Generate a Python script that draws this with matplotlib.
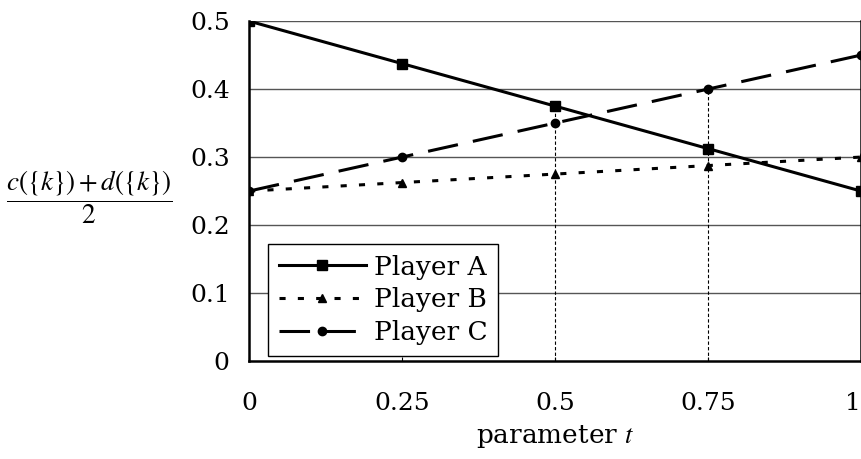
import matplotlib
matplotlib.use("Agg")
import matplotlib.pyplot as plt

# data
t = [0, 0.25, 0.5, 0.75, 1]
player_a = [0.5, 0.4375, 0.375, 0.3125, 0.25]
player_b = [0.25, 0.2625, 0.275, 0.2875, 0.3]
player_c = [0.25, 0.3, 0.35, 0.4, 0.45]
x_ticks = [0, 0.25, 0.5, 0.75, 1]
x_tick_labels = ["0", "0.25", "0.5", "0.75", "1"]
y_ticks = [0, 0.1, 0.2, 0.3, 0.4, 0.5]
y_tick_labels = ["0", "0.1", "0.2", "0.3", "0.4", "0.5"]
drop_x = [0.5, 0.75]

plt.rcParams["font.family"] = ["DejaVu Serif"]
plt.rcParams["mathtext.fontset"] = "stix"

fig = plt.figure(figsize=(8.62, 4.59), dpi=100)
ax = fig.add_axes([0.289, 0.2135, 0.7098, 0.7405])

# grid lines
for y in y_ticks[1:]:
    ax.axhline(y, color="#555555", lw=1.0, zorder=1)

# drop lines down from the top point at t = 0.5 and 0.75
for x in drop_x:
    i = t.index(x)
    top = max(player_a[i], player_b[i], player_c[i])
    ax.vlines(x, 0, top, colors="black", linestyles=(0, (3, 2)), lw=0.8, zorder=1)

ax.plot(t, player_a, color="black", lw=2.2, marker="s", ms=7, label="Player A", zorder=3)
ax.plot(t, player_b, color="black", lw=2.2, ls=(0, (2, 4)), marker="^", ms=6,
        label="Player B", zorder=3)
ax.plot(t, player_c, color="black", lw=2.2, ls=(0, (10, 5)), marker="o", ms=6,
        label="Player C", zorder=3)

ax.set_xlim(0, 1)
ax.set_ylim(0, 0.5)
ax.set_xticks(x_ticks)
ax.set_xticklabels(x_tick_labels, fontsize=18)
ax.get_xticklabels()[-1].set_horizontalalignment("right")
ax.set_yticks(y_ticks)
ax.set_yticklabels(y_tick_labels, fontsize=18)
ax.tick_params(axis="x", direction="in", length=3, pad=22)
ax.tick_params(axis="y", length=0, pad=14)
for side in ["left", "bottom", "right"]:
    ax.spines[side].set_linewidth(1.8)
ax.spines["top"].set_visible(False)
ax.set_clip_on(False)

ax.set_xlabel("parameter $t$", fontsize=19, labelpad=6)
fig.text(0.104, 1 - 197 / 459,
         r"$\dfrac{c\left(\{k\}\right)+d\left(\{k\}\right)}{2}$",
         fontsize=19.5, ha="center", va="center")

leg = ax.legend(loc="lower left", bbox_to_anchor=(0.031, 0.015), fontsize=19,
                handlelength=3.3, handletextpad=0.3, borderpad=0.4,
                labelspacing=0.3, borderaxespad=0, fancybox=False, framealpha=1)
leg.get_frame().set_edgecolor("black")
leg.get_frame().set_linewidth(1.0)

fig.savefig("out.png", dpi=100)
